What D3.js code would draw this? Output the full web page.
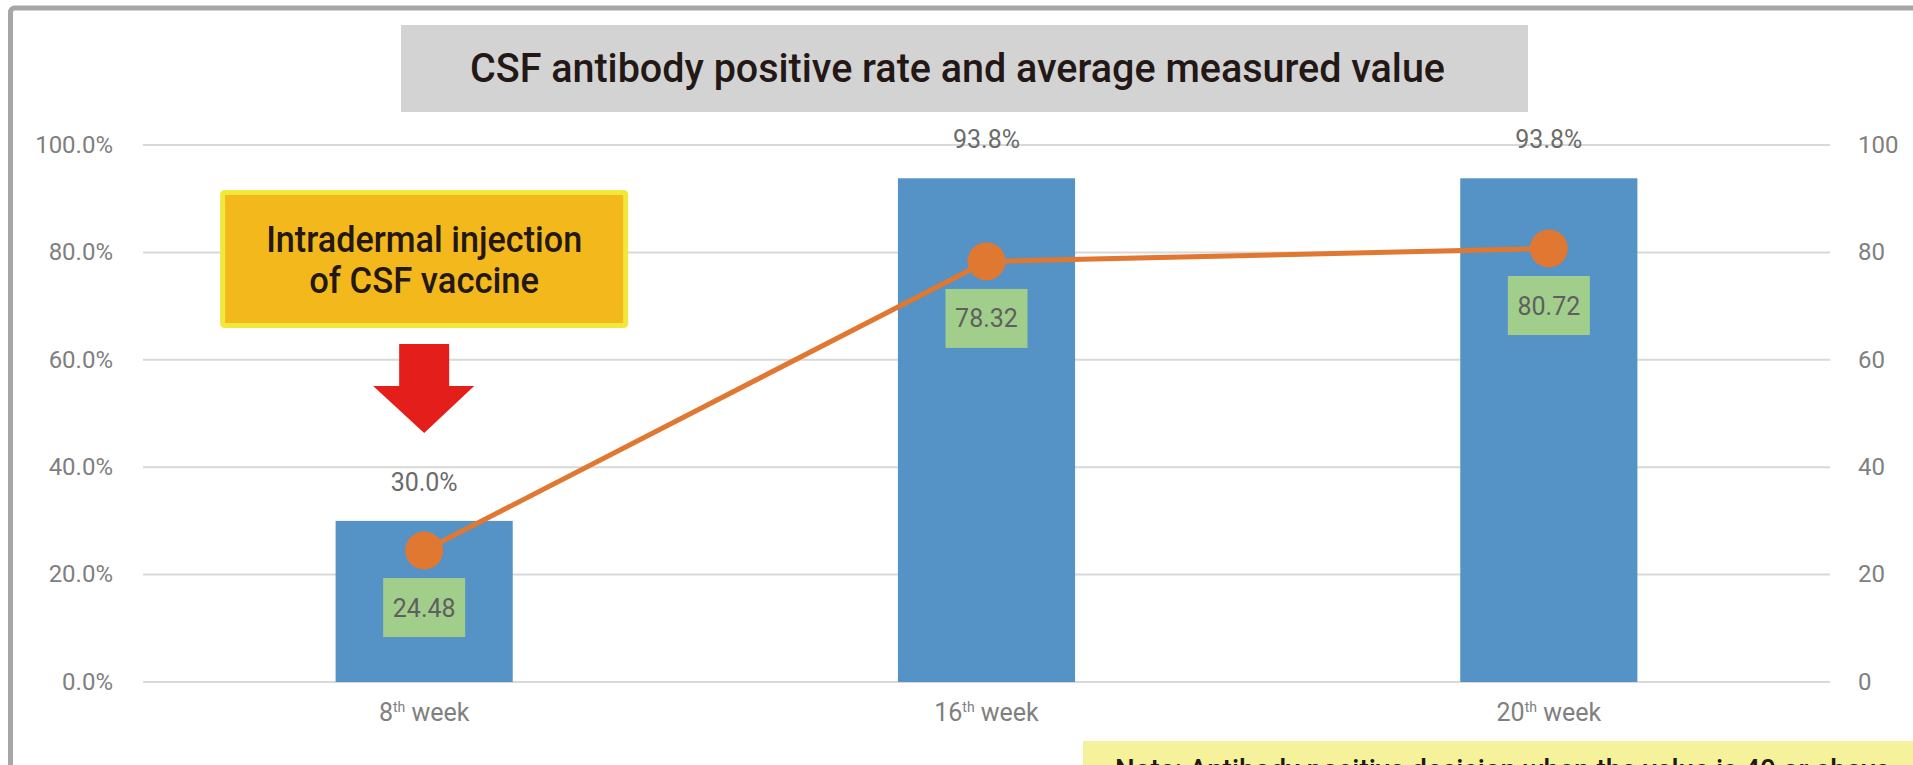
<!DOCTYPE html>
<html>
<head>
<meta charset="utf-8">
<script src="https://cdn.jsdelivr.net/npm/d3@7"></script>
<style>
  html, body { margin: 0; padding: 0; background: #fff; overflow: hidden; }
  svg { display: block; }
</style>
</head>
<body>
<svg id="chart" width="1913" height="765"></svg>
<script>
// ---- data ----
const categories = ["8", "16", "20"];
const categorySuffix = "th";
const categoryWord = " week";
const positiveRate = [0.30, 0.938, 0.938];      // bars, left axis (%)
const averageValue = [24.48, 78.32, 80.72];     // line, right axis
const leftTicks = [0, 0.2, 0.4, 0.6, 0.8, 1.0];
const rightTicks = [0, 20, 40, 60, 80, 100];
const titleText = "CSF antibody positive rate and average measured value";
const annotationLines = ["Intradermal injection", "of CSF vaccine"];
const noteText = "Note: Antibody positive decision when the value is 40 or above";

// ---- layout ----
const svg = d3.select("#chart");
const plotLeft = 143, plotRight = 1830, plotTop = 145, plotBottom = 682;

const x = d3.scaleBand().domain(categories).range([plotLeft, plotRight]).padding(0);
const yL = d3.scaleLinear().domain([0, 1]).range([plotBottom, plotTop]);
const yR = d3.scaleLinear().domain([0, 100]).range([plotBottom, plotTop]);
const cx = c => x(c) + x.bandwidth() / 2;
const barW = x.bandwidth() * 0.315;

// outer frame
svg.append("rect")
  .attr("x", 10.5).attr("y", 8).attr("width", 2000).attr("height", 900)
  .attr("rx", 4).attr("fill", "none").attr("stroke", "#a6a6a6").attr("stroke-width", 5);

// title
svg.append("rect").attr("x", 401).attr("y", 25).attr("width", 1127).attr("height", 87).attr("fill", "#d3d3d3");
svg.append("text").attr("x", 470).attr("y", 82)
  .attr("font-family", "Roboto, 'Liberation Sans', Arial, sans-serif")
  .attr("font-weight", 500).attr("font-size", 40).attr("fill", "#231815")
  .attr("textLength", 975).attr("lengthAdjust", "spacingAndGlyphs")
  .text(titleText);

// gridlines
svg.append("g").selectAll("line").data(leftTicks).join("line")
  .attr("x1", plotLeft).attr("x2", plotRight)
  .attr("y1", d => yL(d)).attr("y2", d => yL(d))
  .attr("stroke", "#d9d9d9").attr("stroke-width", 2);

// axes
const axisFont = "Roboto, 'Liberation Sans', Arial, sans-serif";
const gL = svg.append("g").attr("transform", `translate(${plotLeft},0)`)
  .call(d3.axisLeft(yL).tickValues(leftTicks).tickFormat(d3.format(".1%")).tickSize(0).tickPadding(30));
const gR = svg.append("g").attr("transform", `translate(${plotRight},0)`)
  .call(d3.axisRight(yR).tickValues(rightTicks).tickFormat(d3.format("d")).tickSize(0).tickPadding(28));
[gL, gR].forEach(g => {
  g.select(".domain").remove();
  g.selectAll("text").attr("font-family", axisFont).attr("font-size", 24).attr("fill", "#808080").attr("dy", "0.3em");
});

// bars
svg.append("g").selectAll("rect").data(categories).join("rect")
  .attr("x", d => cx(d) - barW / 2).attr("width", barW)
  .attr("y", (d, i) => yL(positiveRate[i]))
  .attr("height", (d, i) => plotBottom - yL(positiveRate[i]))
  .attr("fill", "#5592c6");

// bar labels
svg.append("g").selectAll("text").data(categories).join("text")
  .attr("x", d => cx(d)).attr("y", (d, i) => yL(positiveRate[i]) - 30)
  .attr("text-anchor", "middle")
  .attr("font-family", axisFont).attr("font-size", 25).attr("fill", "#6b6b6b")
  .text((d, i) => d3.format(".1%")(positiveRate[i]));

// line
const line = d3.line().x((d, i) => cx(categories[i])).y(d => yR(d));
svg.append("path").datum(averageValue).attr("d", line)
  .attr("fill", "none").attr("stroke", "#e07832").attr("stroke-width", 5).attr("stroke-linejoin", "round");
svg.append("g").selectAll("circle").data(averageValue).join("circle")
  .attr("cx", (d, i) => cx(categories[i])).attr("cy", d => yR(d)).attr("r", 19)
  .attr("fill", "#e07832");

// line labels
const lbl = svg.append("g").selectAll("g").data(averageValue).join("g")
  .attr("transform", (d, i) => `translate(${cx(categories[i])},${yR(d) + 57})`);
lbl.append("rect").attr("x", -41).attr("y", -29.5).attr("width", 82).attr("height", 59).attr("fill", "#a1cf8b");
lbl.append("text").attr("text-anchor", "middle").attr("dy", "0.36em")
  .attr("font-family", axisFont).attr("font-size", 25).attr("fill", "#5f5f5f")
  .text(d => d3.format(".2f")(d));

// x-axis labels with superscript
const xl = svg.append("g").selectAll("text").data(categories).join("text")
  .attr("x", d => cx(d)).attr("y", 721).attr("text-anchor", "middle")
  .attr("font-family", axisFont).attr("font-size", 25).attr("fill", "#808080");
xl.append("tspan").text(d => d);
xl.append("tspan").attr("font-size", 14).attr("dy", -9).text(categorySuffix);
xl.append("tspan").attr("dy", 9).text(categoryWord);

// annotation box
const ac = cx(categories[0]);
svg.append("rect").attr("x", ac - 201.5).attr("y", 192.5).attr("width", 403).attr("height", 133)
  .attr("rx", 2).attr("fill", "#f3b81b").attr("stroke", "#f2e73a").attr("stroke-width", 5);
const annWidths = [316, 230];
const annBase = [252, 293];
annotationLines.forEach((t, i) => {
  svg.append("text").attr("x", ac - annWidths[i] / 2).attr("y", annBase[i])
    .attr("font-family", "Roboto, 'Liberation Sans', Arial, sans-serif").attr("font-weight", 500)
    .attr("font-size", 36).attr("fill", "#231815")
    .attr("textLength", annWidths[i]).attr("lengthAdjust", "spacingAndGlyphs")
    .text(t);
});

// red arrow
svg.append("path")
  .attr("d", `M${ac - 25},344 L${ac + 25},344 L${ac + 25},386 L${ac + 50},386 L${ac},433 L${ac - 51},386 L${ac - 25},386 Z`)
  .attr("fill", "#e31e1b");

// note box (cut off by the canvas)
svg.append("rect").attr("x", 1083).attr("y", 741).attr("width", 900).attr("height", 80).attr("fill", "#f6f29b");
svg.append("text").attr("x", 1115).attr("y", 780)
  .attr("font-family", "Roboto, 'Liberation Sans', Arial, sans-serif").attr("font-weight", 500)
  .attr("font-size", 30).attr("fill", "#231815")
  .attr("textLength", 775).attr("lengthAdjust", "spacingAndGlyphs")
  .text(noteText);
</script>
</body>
</html>
